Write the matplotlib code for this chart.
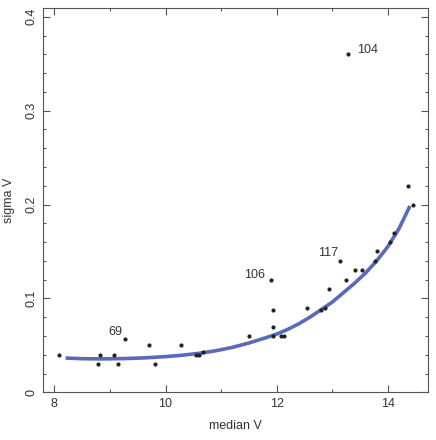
import matplotlib
matplotlib.use('Agg')
from matplotlib import pyplot as plt
from matplotlib.ticker import MultipleLocator

plt.rcParams['font.family'] = ['Liberation Sans', 'DejaVu Sans']

# star data: median V vs sigma V
medV = [8.09, 8.78, 8.82, 9.07, 9.15, 9.27, 9.70, 9.81, 10.28, 10.54, 10.61, 10.68,
        11.50, 11.90, 11.94, 11.93, 11.93, 12.07, 12.13, 12.55, 12.79, 12.87, 12.94,
        13.14, 13.25, 13.41, 13.53, 13.77, 13.80, 14.05, 14.12, 13.29, 14.36, 14.46]
sigV = [0.040, 0.030, 0.040, 0.040, 0.030, 0.057, 0.050, 0.030, 0.050, 0.040, 0.040, 0.043,
        0.060, 0.120, 0.088, 0.070, 0.060, 0.060, 0.060, 0.090, 0.088, 0.090, 0.110,
        0.140, 0.120, 0.130, 0.130, 0.140, 0.150, 0.160, 0.170, 0.360, 0.220, 0.200]

# fitted curve
fitX = [8.2, 8.5, 8.8, 9.0, 9.3, 9.6, 10.0, 10.3, 10.6, 10.9, 11.2, 11.5, 11.8, 12.0,
        12.2, 12.4, 12.6, 12.8, 13.0, 13.2, 13.4, 13.6, 13.8, 14.0, 14.2, 14.4]
fitY = [0.0365, 0.0358, 0.0356, 0.0357, 0.0360, 0.0366, 0.0380, 0.0395, 0.0415, 0.0442,
        0.0478, 0.0525, 0.0580, 0.0620, 0.0670, 0.0730, 0.0800, 0.0880, 0.0960, 0.1060,
        0.1160, 0.1270, 0.1400, 0.1550, 0.1740, 0.1985]

# labelled stars
labels = ['104', '106', '117', '69']
labX = [13.29, 11.90, 13.14, 9.27]
labY = [0.360, 0.120, 0.140, 0.057]

fig = plt.figure(figsize=(4.36, 4.40), dpi=100)
ax = fig.add_axes([0.0993, 0.1084, 0.8817, 0.8726])

ax.plot(fitX, fitY, color='#5a6ab8', lw=2.6, solid_capstyle='butt', zorder=2)
ax.scatter(medV, sigV, s=9, c='#222222', zorder=3, linewidths=0)

offs = [(6, 3), (-4, 3), (-1, 6), (-2, 5)]
has = ['left', 'right', 'right', 'right']
for t, x, y, o, h in zip(labels, labX, labY, offs, has):
    ax.annotate(t, (x, y), xytext=o, textcoords='offset points', ha=h, va='center',
                fontsize=9, color='#333333')

ax.set_xlim(7.8, 14.72)
ax.set_ylim(0, 0.409)
ax.set_xticks([8, 10, 12, 14])
ax.set_yticks([0, 0.1, 0.2, 0.3, 0.4])
ax.set_yticklabels(['0', '0.1', '0.2', '0.3', '0.4'], rotation=90, va='center')
ax.xaxis.set_minor_locator(MultipleLocator(1))
ax.yaxis.set_minor_locator(MultipleLocator(0.02))
ax.tick_params(which='both', direction='in', top=True, right=True,
               colors='#555555', labelcolor='#333333', labelsize=9)
ax.tick_params(which='major', length=5, width=0.8, pad=4)
ax.tick_params(which='minor', length=2.5, width=0.8)
for s in ax.spines.values():
    s.set_color('#555555')
    s.set_linewidth(0.8)

ax.set_xlabel('median V', fontsize=9, color='#333333', labelpad=7)
ax.set_ylabel('sigma V', fontsize=9, color='#333333', labelpad=8)

plt.savefig('out.png', dpi=100)
